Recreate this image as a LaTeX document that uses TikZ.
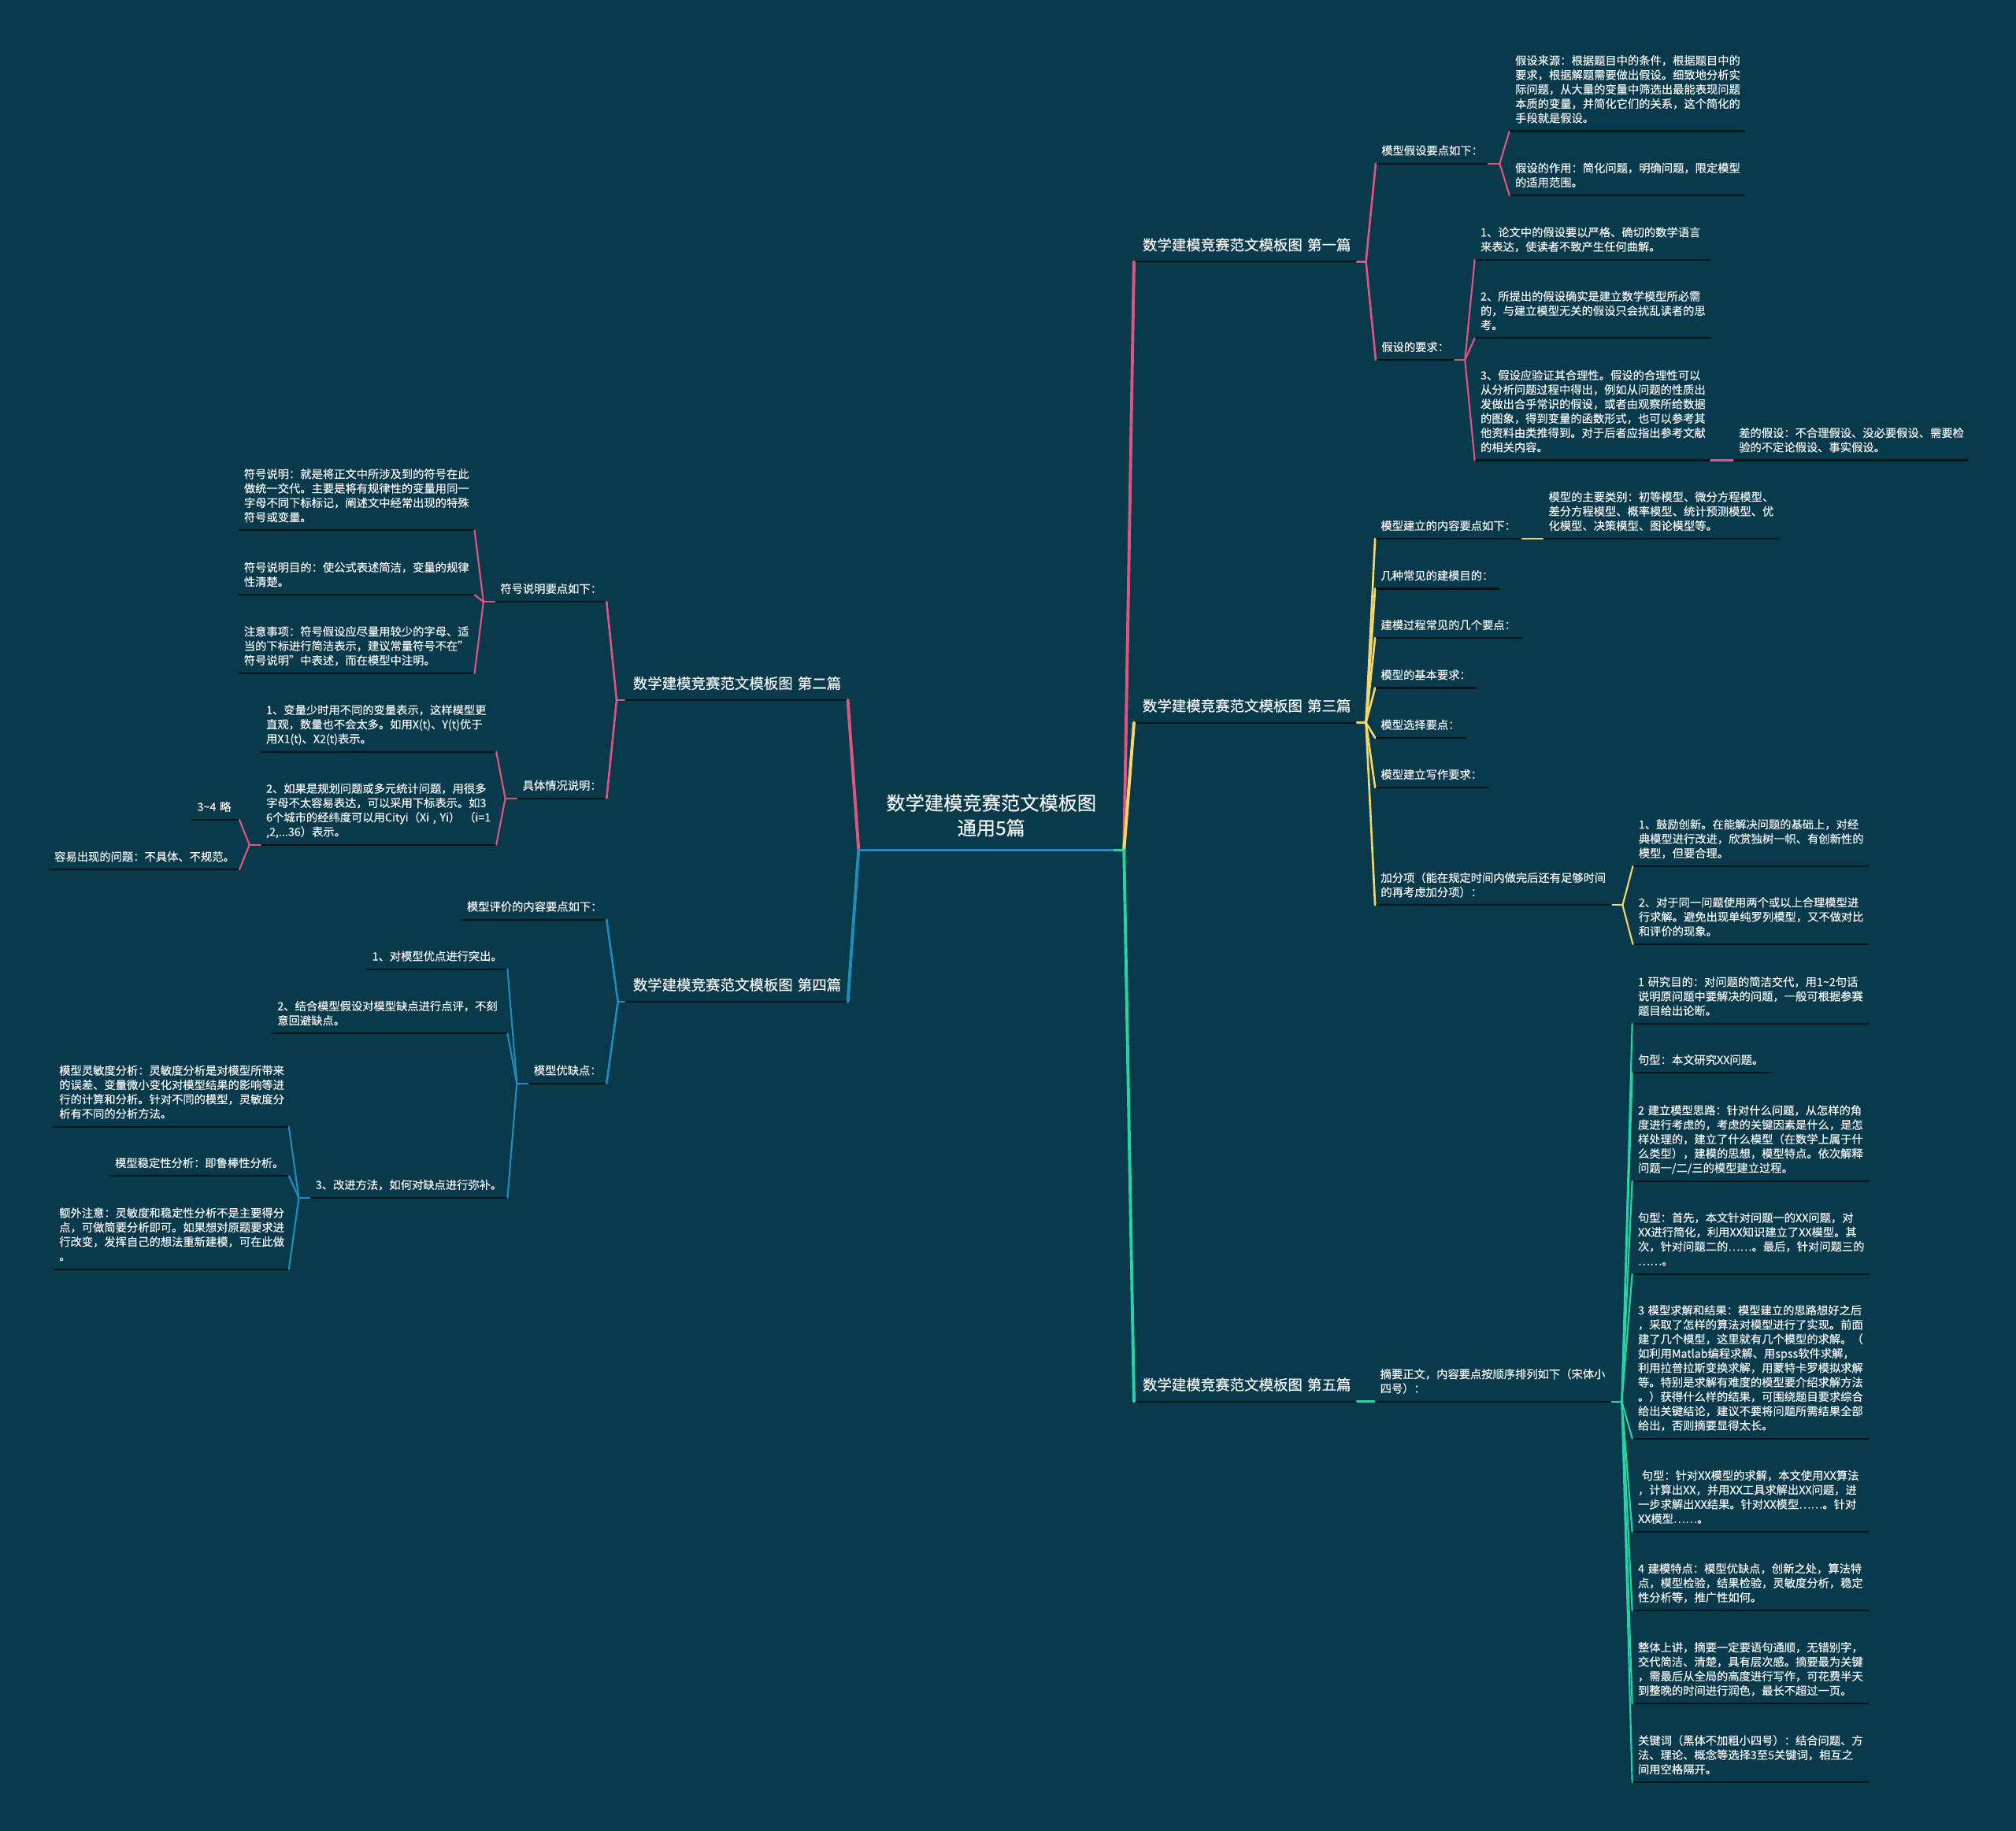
\documentclass[tikz,border=0pt]{standalone}
\usepackage{fontspec}
\setmainfont{Noto Sans CJK SC}[FakeBold=0.35]
\definecolor{bg}{HTML}{083A4C}
\definecolor{cpink}{HTML}{E0557F}
\definecolor{cyel}{HTML}{F5D66B}
\definecolor{cgreen}{HTML}{26D3A1}
\definecolor{cblue}{HTML}{1F8DBB}
\definecolor{ulc}{HTML}{03141A}
\definecolor{txt}{HTML}{F4F6F7}
\begin{document}
\begin{tikzpicture}[x=1pt,y=-1pt,
  leaf/.style={anchor=south west, inner xsep=4.3pt, inner ysep=3.3pt, align=left, text=txt,
    font=\fontsize{8.75pt}{11.2pt}\selectfont,
    execute at begin node={\hyphenpenalty=10000\exhyphenpenalty=10000\parindent=0pt},
    execute at end node={\strut}},
  titlen/.style={leaf, inner xsep=6.5pt, inner ysep=4.4pt, text width=160pt,
    font=\fontsize{11.3pt}{14pt}\selectfont},
  rootn/.style={anchor=south, inner xsep=8pt, inner ysep=5.5pt, align=center, text=txt,
    text width=190pt, font=\fontsize{14.85pt}{19.4pt}\selectfont,
    execute at end node={\strut}},
  uline/.style={draw=ulc, line width=1.3pt},
  mainc/.style={line width=2.4pt, line cap=round},
  subc/.style={line width=1.6pt, line cap=round},
  leafc/.style={line width=1.3pt, line cap=round}
]
\fill[bg] (0,0) rectangle (1568,1424);
\useasboundingbox (0,0) rectangle (1568,1424);

% root
\node[rootn] (root) at (771,661) {数学建模竞赛范文模板图\\通用5篇};

% ---------- right side ----------
\node[titlen] (t1) at (882,203.5) {数学建模竞赛范文模板图~第一篇};
\node[leaf, text width=78.4pt] (n11) at (1070,127.2) {模型假设要点如下：};
\node[leaf, text width=174.4pt] (n111) at (1174,102) {假设来源：根据题目中的条件，根据题目中的\\要求，根据解题需要做出假设。细致地分析实\\际问题，从大量的变量中筛选出最能表现问题\\本质的变量，并简化它们的关系，这个简化的\\手段就是假设。};
\node[leaf, text width=174.4pt] (n112) at (1174,152) {假设的作用：简化问题，明确问题，限定模型\\的适用范围。};
\node[leaf, text width=52.4pt] (n12) at (1070,280) {假设的要求：};
\node[leaf, text width=174.4pt] (n121) at (1147,202) {1、论文中的假设要以严格、确切的数学语言\\来表达，使读者不致产生任何曲解。};
\node[leaf, text width=174.4pt] (n122) at (1147,263) {2、所提出的假设确实是建立数学模型所必需\\的，与建立模型无关的假设只会扰乱读者的思\\考。};
\node[leaf, text width=174.4pt] (n123) at (1147,358) {3、假设应验证其合理性。假设的合理性可以\\从分析问题过程中得出，例如从问题的性质出\\发做出合乎常识的假设，或者由观察所给数据\\的图象，得到变量的函数形式，也可以参考其\\他资料由类推得到。对于后者应指出参考文献\\的相关内容。};
\node[leaf, text width=173.4pt] (n1231) at (1348,358) {差的假设：不合理假设、没必要假设、需要检\\验的不定论假设、事实假设。};

\node[titlen] (t3) at (882,562) {数学建模竞赛范文模板图~第三篇};
\node[leaf, text width=105.2pt] (n31) at (1069.5,419) {模型建立的内容要点如下：};
\node[leaf, text width=174.4pt] (n311) at (1200,419) {模型的主要类别：初等模型、微分方程模型、\\差分方程模型、概率模型、统计预测模型、优\\化模型、决策模型、图论模型等。};
\node[leaf, text width=87.9pt] (n32) at (1069.5,457.8) {几种常见的建模目的：};
\node[leaf, text width=105.7pt] (n33) at (1069.5,496.2) {建模过程常见的几个要点：};
\node[leaf, text width=70.1pt] (n34) at (1069.5,535) {模型的基本要求：};
\node[leaf, text width=61.7pt] (n35) at (1069.5,573.8) {模型选择要点：};
\node[leaf, text width=79.1pt] (n36) at (1069.5,612.5) {模型建立写作要求：};
\node[leaf, text width=175.5pt] (n37) at (1069.5,704) {加分项（能在规定时间内做完后还有足够时间\\的再考虑加分项）：};
\node[leaf, text width=174.4pt] (n371) at (1270,673.7) {1、鼓励创新。在能解决问题的基础上，对经\\典模型进行改进，欣赏独树一帜、有创新性的\\模型，但要合理。};
\node[leaf, text width=174.4pt] (n372) at (1270,734.4) {2、对于同一问题使用两个或以上合理模型进\\行求解。避免出现单纯罗列模型，又不做对比\\和评价的现象。};

\node[titlen] (t5) at (882,1090) {数学建模竞赛范文模板图~第五篇};
\node[leaf, text width=175.4pt] (n51) at (1069,1090) {摘要正文，内容要点按顺序排列如下（宋体小\\四号）：};
\node[leaf, text width=175.1pt] (n511) at (1269.5,796.2) {1~研究目的：对问题的简洁交代，用1\textasciitilde 2句话\\说明原问题中要解决的问题，一般可根据参赛\\题目给出论断。};
\node[leaf, text width=99pt] (n512) at (1269.5,834.4) {句型：本文研究XX问题。};
\node[leaf, text width=175.1pt] (n513) at (1269.5,918.5) {2~建立模型思路：针对什么问题，从怎样的角\\度进行考虑的，考虑的关键因素是什么，是怎\\样处理的，建立了什么模型（在数学上属于什\\么类型），建模的思想，模型特点。依次解释\\问题一/二/三的模型建立过程。};
\node[leaf, text width=175.1pt] (n514) at (1269.5,990.8) {句型：首先，本文针对问题一的XX问题，对\\XX进行简化，利用XX知识建立了XX模型。其\\次，针对问题二的……。最后，针对问题三的\\……。};
\node[leaf, text width=175.1pt] (n515) at (1269.5,1118.8) {3~模型求解和结果：模型建立的思路想好之后\\，采取了怎样的算法对模型进行了实现。前面\\建了几个模型，这里就有几个模型的求解。（\\如利用Matlab编程求解、用spss软件求解，\\利用拉普拉斯变换求解，用蒙特卡罗模拟求解\\等。特别是求解有难度的模型要介绍求解方法\\。）获得什么样的结果，可围绕题目要求综合\\给出关键结论，建议不要将问题所需结果全部\\给出，否则摘要显得太长。};
\node[leaf, text width=175.1pt] (n516) at (1269.5,1191.3) {~句型：针对XX模型的求解，本文使用XX算法\\，计算出XX，并用XX工具求解出XX问题，进\\一步求解出XX结果。针对XX模型……。针对\\XX模型……。};
\node[leaf, text width=175.1pt] (n517) at (1269.5,1252.5) {4~建模特点：模型优缺点，创新之处，算法特\\点，模型检验，结果检验，灵敏度分析，稳定\\性分析等，推广性如何。};
\node[leaf, text width=175.1pt] (n518) at (1269.5,1325) {整体上讲，摘要一定要语句通顺，无错别字，\\交代简洁、清楚，具有层次感。摘要最为关键\\，需最后从全局的高度进行写作，可花费半天\\到整晚的时间进行润色，最长不超过一页。};
\node[leaf, text width=175.1pt] (n519) at (1269.5,1386.2) {关键词（黑体不加粗小四号）：结合问题、方\\法、理论、概念等选择3至5关键词，相互之\\间用空格隔开。};

% ---------- left side ----------
\node[titlen, text width=160.4pt] (t2) at (485.6,544.5) {数学建模竞赛范文模板图~第二篇};
\node[leaf, text width=78.1pt] (n21) at (384.7,468) {符号说明要点如下：};
\node[leaf, text width=174.8pt] (n211) at (185.3,412.4) {符号说明：就是将正文中所涉及到的符号在此\\做统一交代。主要是将有规律性的变量用同一\\字母不同下标标记，阐述文中经常出现的特殊\\符号或变量。};
\node[leaf, text width=174.8pt] (n212) at (185.3,462.6) {符号说明目的：使公式表述简洁，变量的规律\\性清楚。};
\node[leaf, text width=174.8pt] (n213) at (185.3,523.7) {注意事项：符号假设应尽量用较少的字母、适\\当的下标进行简洁表示，建议常量符号不在"\\符号说明"中表述，而在模型中注明。};
\node[leaf, text width=60.8pt] (n22) at (402,621) {具体情况说明：};
\node[leaf, text width=174.4pt] (n221) at (202.6,584.7) {1、变量少时用不同的变量表示，这样模型更\\直观，数量也不会太多。如用X(t)、Y(t)优于\\用X1(t)、X2(t)表示。};
\node[leaf, text width=174.4pt] (n222) at (202.6,657) {2、如果是规划问题或多元统计问题，用很多\\字母不太容易表达，可以采用下标表示。如3\\6个城市的经纬度可以用Cityi（Xi~,~Yi）~（i=1\\,2,...36）表示。};
\node[leaf, text width=28.2pt] (n2221) at (149,637.6) {3\textasciitilde 4~略};
\node[leaf, text width=139.3pt] (n2222) at (37.9,676.4) {容易出现的问题：不具体、不规范。};

\node[titlen, text width=160.4pt] (t4) at (485.6,779) {数学建模竞赛范文模板图~第四篇};
\node[leaf, text width=104.1pt] (n41) at (358.7,715.2) {模型评价的内容要点如下：};
\node[leaf, text width=52.1pt] (n42) at (410.7,842.6) {模型优缺点：};
\node[leaf, text width=100.7pt] (n421) at (285,753.8) {1、对模型优点进行突出。};
\node[leaf, text width=174.4pt] (n422) at (211.3,803.8) {2、结合模型假设对模型缺点进行点评，不刻\\意回避缺点。};
\node[leaf, text width=144.7pt] (n423) at (241,931.6) {3、改进方法，如何对缺点进行弥补。};
\node[leaf, text width=174.1pt] (n4231) at (41.6,876.3) {模型灵敏度分析：灵敏度分析是对模型所带来\\的误差、变量微小变化对模型结果的影响等进\\行的计算和分析。针对不同的模型，灵敏度分\\析有不同的分析方法。};
\node[leaf, text width=130.7pt] (n4232) at (85,914.6) {模型稳定性分析：即鲁棒性分析。};
\node[leaf, text width=174.1pt] (n4233) at (41.6,987.1) {额外注意：灵敏度和稳定性分析不是主要得分\\点，可做简要分析即可。如果想对原题要求进\\行改变，发挥自己的想法重新建模，可在此做\\。};

% ---------- underlines ----------
\foreach \n in {t1,n11,n111,n112,n12,n121,n122,n123,n1231,
  t3,n31,n311,n32,n33,n34,n35,n36,n37,n371,n372,
  t5,n51,n511,n512,n513,n514,n515,n516,n517,n518,n519,
  t2,n21,n211,n212,n213,n22,n221,n222,n2221,n2222,
  t4,n41,n42,n421,n422,n423,n4231,n4232,n4233}
  \draw[uline] (\n.south west) -- (\n.south east);

% root underline
\coordinate (rg) at ([xshift=-8pt]root.south east);
\draw[cblue, line width=2pt] (root.south west) -- (rg);
\draw[cgreen, line width=2pt] (rg) -- (root.south east);

% main connectors
\draw[mainc, cpink] (root.south east) -- (t1.south west);
\draw[mainc, cyel] (root.south east) -- (t3.south west);
\draw[mainc, cgreen] (root.south east) -- (t5.south west);
\draw[mainc, cpink] (root.south west) -- (t2.south east);
\draw[mainc, cblue] (root.south west) -- (t4.south east);

% branch 1
\coordinate (f1) at ([xshift=7pt]t1.south east);
\draw[subc, cpink] (t1.south east) -- (f1);
\draw[subc, cpink] (f1) -- (n11.south west);
\draw[subc, cpink] (f1) -- (n12.south west);
\coordinate (f11) at ([xshift=9pt]n11.south east);
\draw[leafc, cpink] (n11.south east) -- (f11);
\draw[leafc, cpink] (f11) -- (n111.south west);
\draw[leafc, cpink] (f11) -- (n112.south west);
\coordinate (f12) at ([xshift=8pt]n12.south east);
\draw[leafc, cpink] (n12.south east) -- (f12);
\draw[leafc, cpink] (f12) -- (n121.south west);
\draw[leafc, cpink] (f12) -- (n122.south west);
\draw[leafc, cpink] (f12) -- (n123.south west);
\draw[leafc, cpink] (n123.south east) -- (n1231.south west);

% branch 3
\coordinate (f3) at ([xshift=7pt]t3.south east);
\draw[subc, cyel] (t3.south east) -- (f3);
\foreach \c in {n31,n32,n33,n34,n35,n36,n37}
  \draw[subc, cyel] (f3) -- (\c.south west);
\draw[leafc, cyel] (n31.south east) -- (n311.south west);
\coordinate (f37) at ([xshift=8pt]n37.south east);
\draw[leafc, cyel] (n37.south east) -- (f37);
\draw[leafc, cyel] (f37) -- (n371.south west);
\draw[leafc, cyel] (f37) -- (n372.south west);

% branch 5
\draw[subc, cgreen] (t5.south east) -- (n51.south west);
\coordinate (f51) at ([xshift=8pt]n51.south east);
\draw[leafc, cgreen] (n51.south east) -- (f51);
\foreach \c in {n511,n512,n513,n514,n515,n516,n517,n518,n519}
  \draw[leafc, cgreen] (f51) -- (\c.south west);

% branch 2
\coordinate (f2) at ([xshift=-6pt]t2.south west);
\draw[subc, cpink] (t2.south west) -- (f2);
\draw[subc, cpink] (f2) -- (n21.south east);
\draw[subc, cpink] (f2) -- (n22.south east);
\coordinate (f21) at ([xshift=-8.7pt]n21.south west);
\draw[leafc, cpink] (n21.south west) -- (f21);
\draw[leafc, cpink] (f21) -- (n211.south east);
\draw[leafc, cpink] (f21) -- (n212.south east);
\draw[leafc, cpink] (f21) -- (n213.south east);
\coordinate (f22) at ([xshift=-9pt]n22.south west);
\draw[leafc, cpink] (n22.south west) -- (f22);
\draw[leafc, cpink] (f22) -- (n221.south east);
\draw[leafc, cpink] (f22) -- (n222.south east);
\coordinate (f222) at ([xshift=-8.6pt]n222.south west);
\draw[leafc, cpink] (n222.south west) -- (f222);
\draw[leafc, cpink] (f222) -- (n2221.south east);
\draw[leafc, cpink] (f222) -- (n2222.south east);

% branch 4
\coordinate (f4) at ([xshift=-5pt]t4.south west);
\draw[subc, cblue] (t4.south west) -- (f4);
\draw[subc, cblue] (f4) -- (n41.south east);
\draw[subc, cblue] (f4) -- (n42.south east);
\coordinate (f42) at ([xshift=-8.7pt]n42.south west);
\draw[leafc, cblue] (n42.south west) -- (f42);
\draw[leafc, cblue] (f42) -- (n421.south east);
\draw[leafc, cblue] (f42) -- (n422.south east);
\draw[leafc, cblue] (f42) -- (n423.south east);
\coordinate (f423) at ([xshift=-8.6pt]n423.south west);
\draw[leafc, cblue] (n423.south west) -- (f423);
\draw[leafc, cblue] (f423) -- (n4231.south east);
\draw[leafc, cblue] (f423) -- (n4232.south east);
\draw[leafc, cblue] (f423) -- (n4233.south east);
\end{tikzpicture}
\end{document}
